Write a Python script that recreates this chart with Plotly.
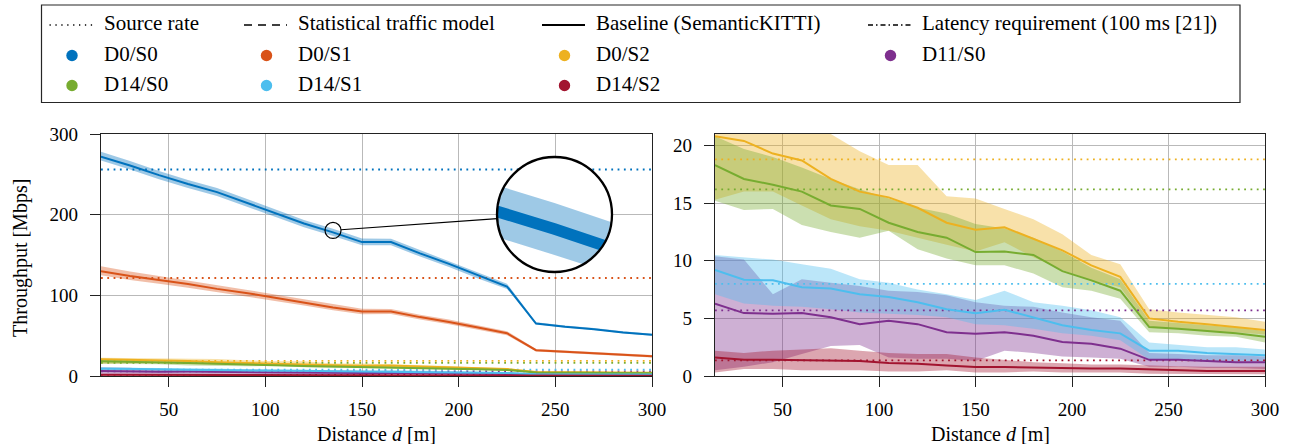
import numpy as np
import plotly.graph_objects as go

# ---------------- data ----------------
distance = [15, 30, 45, 60, 75, 90, 105, 120, 135, 150,
            165, 180, 195, 210, 225, 240, 255, 270, 285, 300]

names = ["D0/S0", "D0/S1", "D0/S2", "D11/S0", "D14/S0", "D14/S1", "D14/S2"]
colors = ["#0072BD", "#D95319", "#EDB120", "#7E2F8E", "#77AC30", "#4DBEEE", "#A2142F"]

source_rate = [256, 121.5, 18.8, 5.7, 16.2, 8.0, 1.35]

d0s0_mean = [272, 261, 249, 238, 228, 215, 202, 189, 178, 166, 166, 152, 139, 125, 111, 65, 61, 58, 54, 51]
d0s0_high = [278, 266.5, 254, 243, 233, 220, 207, 193.5, 182.5, 170.5, 170, 156, 143, 129, 114.5, 66.5, 62.5, 59.5, 55.5, 52.5]
d0s0_low = [267, 256, 244, 233, 223, 210.5, 197.5, 184.5, 173.5, 162, 162, 148, 135, 121, 108, 64, 60, 57, 53, 50]

d0s1_mean = [130, 124, 119, 114, 108, 103, 97, 91, 85, 80, 80, 73, 67, 60, 53, 32, 30, 28, 26, 24.5]
d0s1_high = [136, 129.5, 124, 118.5, 112.5, 107, 101, 95, 89, 83.5, 83, 76, 70, 62.5, 55.5, 33.5, 31.5, 29.5, 27.5, 26]
d0s1_low = [125, 119, 114.5, 109.5, 104, 99, 93, 87.5, 81.5, 76.5, 77, 70, 64, 57.5, 50.5, 30.5, 28.5, 26.5, 24.5, 23]

d0s2_mean = [20.8, 20.4, 19.3, 18.7, 17.1, 16.0, 15.5, 14.6, 13.3, 12.7, 12.9, 11.9, 10.9, 9.6, 8.6, 5.0, 4.7, 4.5, 4.25, 4.0]
d0s2_high = [22.5, 22.3, 22.0, 21.6, 21.0, 19.5, 18.3, 18.3, 15.6, 15.4, 14.5, 13.6, 12.3, 10.5, 9.7, 5.8, 5.5, 5.3, 5.1, 4.7]
d0s2_low = [15.3, 16.0, 16.0, 14.8, 13.6, 13.0, 12.6, 12.0, 11.4, 10.8, 11.6, 10.3, 9.2, 8.3, 7.7, 4.3, 4.1, 3.9, 3.8, 3.6]

d11s0_mean = [6.27, 5.46, 5.4, 5.46, 5.1, 4.5, 4.8, 4.5, 3.8, 3.67, 3.8, 3.5, 2.95, 2.8, 2.37, 1.4, 1.4, 1.3, 1.2, 1.2]
d11s0_high = [10.4, 10.1, 7.1, 8.4, 8.1, 7.8, 7.4, 7.3, 7.0, 6.4, 6.1, 6.0, 5.5, 5.1, 4.8, 2.0, 1.9, 1.8, 1.8, 1.7]
d11s0_low = [0.5, 0.8, 1.2, 1.9, 2.6, 2.7, 1.6, 1.5, 1.5, 1.3, 2.2, 2.0, 1.7, 1.6, 1.5, 0.8, 0.8, 0.7, 0.7, 0.6]

d14s0_mean = [18.3, 17.1, 16.6, 16.0, 14.8, 14.5, 13.3, 12.5, 12.0, 10.75, 10.8, 10.5, 9.1, 8.3, 7.4, 4.25, 4.1, 3.9, 3.7, 3.4]
d14s0_high = [20.8, 19.7, 19.0, 18.1, 17.1, 16.2, 15.4, 14.6, 14.1, 13.2, 12.8, 12.0, 10.8, 9.4, 8.4, 4.8, 4.6, 4.4, 4.2, 3.9]
d14s0_low = [15.2, 14.4, 14.5, 13.1, 12.5, 12.0, 12.6, 11.0, 10.2, 9.6, 9.6, 8.9, 7.7, 7.4, 6.7, 3.8, 3.7, 3.5, 3.4, 2.9]

d14s1_mean = [9.2, 8.35, 8.3, 7.7, 7.6, 7.1, 6.85, 6.4, 5.8, 5.45, 5.75, 5.1, 4.4, 4.0, 3.7, 2.2, 2.2, 2.0, 1.9, 1.8]
d14s1_high = [10.5, 10.3, 10.1, 9.7, 9.3, 8.4, 8.1, 7.5, 7.1, 6.6, 7.4, 6.4, 6.1, 5.7, 5.1, 2.9, 2.7, 2.5, 2.5, 2.3]
d14s1_low = [7.1, 6.3, 6.1, 6.0, 5.8, 5.5, 5.4, 5.3, 5.1, 4.5, 4.4, 4.1, 3.7, 3.5, 3.1, 1.4, 1.4, 1.35, 1.3, 1.3]

d14s2_mean = [1.6, 1.4, 1.4, 1.36, 1.3, 1.3, 1.13, 1.07, 0.92, 0.78, 0.78, 0.72, 0.64, 0.64, 0.64, 0.55, 0.49, 0.43, 0.43, 0.43]
d14s2_high = [2.2, 2.0, 2.2, 2.3, 2.4, 2.2, 2.0, 1.9, 1.9, 1.6, 1.4, 1.2, 1.1, 1.0, 1.0, 0.9, 0.85, 0.8, 0.8, 0.8]
d14s2_low = [0.3, 0.6, 0.6, 0.5, 0.5, 0.5, 0.4, 0.4, 0.5, 0.3, 0.3, 0.4, 0.3, 0.3, 0.3, 0.2, 0.2, 0.15, 0.15, 0.15]

means = [d0s0_mean, d0s1_mean, d0s2_mean, d11s0_mean, d14s0_mean, d14s1_mean, d14s2_mean]
highs = [d0s0_high, d0s1_high, d0s2_high, d11s0_high, d14s0_high, d14s1_high, d14s2_high]
lows = [d0s0_low, d0s1_low, d0s2_low, d11s0_low, d14s0_low, d14s1_low, d14s2_low]

x_ticks = [50, 100, 150, 200, 250, 300]
y_ticks_left = [0, 100, 200, 300]
y_ticks_right = [0, 5, 10, 15, 20]

legend_row1 = ["Source rate", "Statistical traffic model", "Baseline (SemanticKITTI)",
               "Latency requirement (100 ms [21])"]
legend_row1_dash = ["1.3px,4.6px", "8px,6px", "solid", "5px,3px,1.5px,3px"]
legend_rows = [["D0/S0", "D0/S1", "D0/S2", "D11/S0"], ["D14/S0", "D14/S1", "D14/S2"]]

# ---------------- layout constants ----------------
W, H = 1289, 444
FONT = "Liberation Serif, Times New Roman, Times, serif"
LX = (101, 652)
RX = (715, 1265)
PY = (134, 376)
XR = (15, 300)


def fx(p):
    return p / W


def fy(p):
    return 1 - p / H


def rgba(hexc, a):
    h = hexc.lstrip("#")
    return "rgba(%d,%d,%d,%.3f)" % (int(h[0:2], 16), int(h[2:4], 16), int(h[4:6], 16), a)


fig = go.Figure()
BAND_A = 0.38

for xa, ya in (("x", "y"), ("x2", "y2")):
    for i in range(len(names)):
        fig.add_trace(go.Scatter(
            x=distance + distance[::-1], y=highs[i] + lows[i][::-1],
            fill="toself", fillcolor=rgba(colors[i], BAND_A), line=dict(width=0),
            mode="lines", hoverinfo="skip", showlegend=False, xaxis=xa, yaxis=ya))
    for i in range(len(names)):
        fig.add_trace(go.Scatter(
            x=[distance[0], distance[-1]], y=[source_rate[i], source_rate[i]],
            mode="lines", line=dict(color=colors[i], width=1.8, dash="1.8px,4.5px"),
            hoverinfo="skip", showlegend=False, xaxis=xa, yaxis=ya))
    for i in range(len(names)):
        fig.add_trace(go.Scatter(
            x=distance, y=means[i], mode="lines", line=dict(color=colors[i], width=2),
            name=names[i], showlegend=False, xaxis=xa, yaxis=ya))

# ---------------- magnifier (inset, clipped to a circle) ----------------
spy_x, spy_y, spy_r = 135, 180.5, 8.0      # small circle (data anchor, px radius)
mcx, mcy, mR = 554.5, 214.5, 57.5           # big circle (px)
mag = mR / spy_r
sx = (LX[1] - LX[0]) / (XR[1] - XR[0])
sy = (PY[1] - PY[0]) / 300.0
hx = mR / (sx * mag)
hy = mR / (sy * mag)
LINE_HW = 5.8   # half width (px) of magnified line


def to_loc(x, y):
    return ((x - spy_x) / hx * mR, (y - spy_y) / hy * mR)


def from_loc(X, Y):
    return (spy_x + X / mR * hx, spy_y + Y / mR * hy)


def clip_poly(subject, clip):
    out = list(subject)
    n = len(clip)
    for i in range(n):
        a, b = clip[i], clip[(i + 1) % n]
        inp, out = out, []
        if not inp:
            break

        def inside(p):
            return (b[0] - a[0]) * (p[1] - a[1]) - (b[1] - a[1]) * (p[0] - a[0]) >= 0

        def inter(p, q):
            x1, y1, x2, y2 = p[0], p[1], q[0], q[1]
            x3, y3, x4, y4 = a[0], a[1], b[0], b[1]
            den = (x1 - x2) * (y3 - y4) - (y1 - y2) * (x3 - x4)
            t = ((x1 - x3) * (y3 - y4) - (y1 - y3) * (x3 - x4)) / den
            return (x1 + t * (x2 - x1), y1 + t * (y2 - y1))

        s = inp[-1]
        for e in inp:
            if inside(e):
                if not inside(s):
                    out.append(inter(s, e))
                out.append(e)
            elif inside(s):
                out.append(inter(s, e))
            s = e
    return out


ang = np.linspace(0, 2 * np.pi, 241)[:-1]
disk = [((mR - 0.6) * np.cos(a), (mR - 0.6) * np.sin(a)) for a in ang]

band_loc = [to_loc(d, v) for d, v in zip(distance, d0s0_high)] + \
           [to_loc(d, v) for d, v in zip(distance[::-1], d0s0_low[::-1])]
cl = [to_loc(d, v) for d, v in zip(distance, d0s0_mean)]
P = np.array(cl)
seg = np.diff(P, axis=0)
seg_n = np.stack([-seg[:, 1], seg[:, 0]], axis=1)
seg_n /= np.linalg.norm(seg_n, axis=1)[:, None]
up, dn = [], []
for k in range(len(P)):
    if k == 0:
        nv = seg_n[0]
        sc = 1.0
    elif k == len(P) - 1:
        nv = seg_n[-1]
        sc = 1.0
    else:
        nv = seg_n[k - 1] + seg_n[k]
        nv /= np.linalg.norm(nv)
        sc = 1.0 / max(np.dot(nv, seg_n[k - 1]), 0.3)
    up.append(tuple(P[k] + LINE_HW * sc * nv))
    dn.append(tuple(P[k] - LINE_HW * sc * nv))
line_loc = up + dn[::-1]

for poly, col in ((disk, "white"),
                  (clip_poly(band_loc, disk), rgba(colors[0], BAND_A)),
                  (clip_poly(line_loc, disk), colors[0])):
    pts = [from_loc(X, Y) for X, Y in poly]
    fig.add_trace(go.Scatter(
        x=[p[0] for p in pts] + [pts[0][0]], y=[p[1] for p in pts] + [pts[0][1]],
        fill="toself", fillcolor=col, line=dict(width=0), mode="lines",
        hoverinfo="skip", showlegend=False, xaxis="x3", yaxis="y3"))

axis_common = dict(
    showline=True, mirror=True, linecolor="#222222", linewidth=1.3,
    ticks="outside", ticklen=10, tickwidth=1.3, tickcolor="#222222",
    showgrid=True, gridcolor="#b9b9b9", gridwidth=1.4, zeroline=False, automargin=False,
    tickfont=dict(family=FONT, size=19, color="black"),
)

layout = dict(
    width=W, height=H, margin=dict(l=0, r=0, t=0, b=0, pad=0, autoexpand=False),
    paper_bgcolor="white", plot_bgcolor="rgba(0,0,0,0)", showlegend=False,
    font=dict(family=FONT),
    xaxis=dict(domain=[fx(LX[0]), fx(LX[1])], range=list(XR), anchor="y",
               tickvals=x_ticks, ticklabelstandoff=6, **axis_common),
    yaxis=dict(domain=[fy(PY[1]), fy(PY[0])], range=[0, 300], anchor="x",
               tickvals=y_ticks_left, ticklabelstandoff=8, **axis_common),
    xaxis2=dict(domain=[fx(RX[0]), fx(RX[1])], range=list(XR), anchor="y2",
                tickvals=x_ticks, ticklabelstandoff=6, **axis_common),
    yaxis2=dict(domain=[fy(PY[1]), fy(PY[0])], range=[0, 21], anchor="x2",
                tickvals=y_ticks_right, ticklabelstandoff=8, **axis_common),
    xaxis3=dict(domain=[fx(mcx - mR), fx(mcx + mR)], range=[spy_x - hx, spy_x + hx],
                anchor="y3", visible=False, automargin=False),
    yaxis3=dict(domain=[fy(mcy + mR), fy(mcy - mR)], range=[spy_y - hy, spy_y + hy],
                anchor="x3", visible=False, automargin=False),
)
fig.update_layout(**layout)

shapes = []
shapes.append(dict(type="circle", xref="paper", yref="paper",
                   x0=fx(mcx - mR), x1=fx(mcx + mR), y0=fy(mcy + mR), y1=fy(mcy - mR),
                   line=dict(color="black", width=2.3), layer="above"))
# small circle
shapes.append(dict(type="circle", xref="x", yref="y", xsizemode="pixel", ysizemode="pixel",
                   xanchor=spy_x, yanchor=spy_y, x0=-spy_r, x1=spy_r, y0=-spy_r, y1=spy_r,
                   line=dict(color="black", width=1.2), layer="above"))
# connector
scx = LX[0] + (spy_x - XR[0]) * sx
scy = PY[1] - spy_y * sy
dx, dy = mcx - scx, mcy - scy
dl = np.hypot(dx, dy)
ux, uy = dx / dl, dy / dl
shapes.append(dict(type="line", xref="paper", yref="paper",
                   x0=fx(scx + spy_r * ux), y0=fy(scy + spy_r * uy),
                   x1=fx(mcx - mR * ux), y1=fy(mcy - mR * uy),
                   line=dict(color="black", width=1.1), layer="above"))

# ---------------- legend (manual) ----------------
LEG_BOX = (41.5, 5, 1240, 102.5)
shapes.append(dict(type="rect", xref="paper", yref="paper",
                   x0=fx(LEG_BOX[0]), x1=fx(LEG_BOX[2]), y0=fy(LEG_BOX[3]), y1=fy(LEG_BOX[1]),
                   line=dict(color="#262626", width=1.2), fillcolor="rgba(0,0,0,0)"))
col_text_x = [101.5, 296, 594, 920]
row_y = [23.5, 54, 84]
annotations = []
for c, (label, dash) in enumerate(zip(legend_row1, legend_row1_dash)):
    tx = col_text_x[c]
    shapes.append(dict(type="line", xref="paper", yref="paper",
                       x0=fx(tx - 52), x1=fx(tx - 9), y0=fy(row_y[0] + 1.5), y1=fy(row_y[0] + 1.5),
                       line=dict(color="black", width=1.6 if dash != "solid" else 1.8, dash=dash)))
    annotations.append(dict(text=label, x=fx(tx), y=fy(row_y[0]), xref="paper", yref="paper",
                            xanchor="left", yanchor="middle", showarrow=False,
                            font=dict(family=FONT, size=21, color="black")))
for r, row in enumerate(legend_rows):
    for c, label in enumerate(row):
        tx = col_text_x[c]
        cy = row_y[r + 1]
        col = colors[names.index(label)]
        shapes.append(dict(type="circle", xref="paper", yref="paper",
                           x0=fx(tx - 29.5 - 5.7), x1=fx(tx - 29.5 + 5.7),
                           y0=fy(cy + 1.5 + 5.7), y1=fy(cy + 1.5 - 5.7),
                           fillcolor=col, line=dict(width=0)))
        annotations.append(dict(text=label, x=fx(tx), y=fy(cy), xref="paper", yref="paper",
                                xanchor="left", yanchor="middle", showarrow=False,
                                font=dict(family=FONT, size=21, color="black")))

# axis titles
annotations.append(dict(text="Throughput [Mbps]", x=fx(20), y=fy(258), xref="paper", yref="paper",
                        textangle=-90, showarrow=False, xanchor="center", yanchor="middle",
                        font=dict(family=FONT, size=20, color="black")))
for cx in ((LX[0] + LX[1]) / 2, (RX[0] + RX[1]) / 2):
    annotations.append(dict(text="Distance <i>d</i> [m]", x=fx(cx), y=fy(434), xref="paper",
                            yref="paper", showarrow=False, xanchor="center", yanchor="middle",
                            font=dict(family=FONT, size=20, color="black")))

fig.update_layout(shapes=shapes, annotations=annotations)
fig.write_html("out.html")
